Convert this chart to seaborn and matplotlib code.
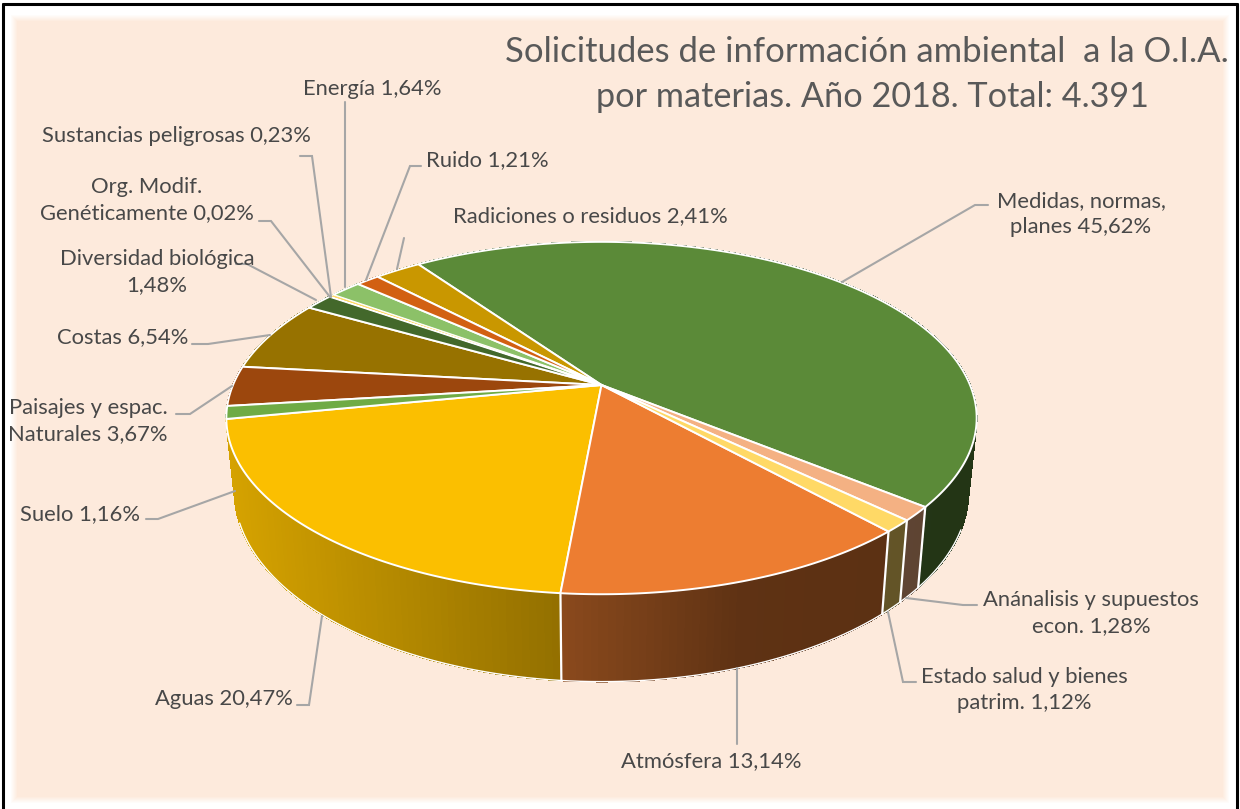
import numpy as np
import matplotlib
matplotlib.use("Agg")
import matplotlib.pyplot as plt
import seaborn as sns

categories = ["Medidas, normas,\nplanes", "Anánalisis y supuestos\necon.", "Estado salud y bienes\npatrim.",
              "Atmósfera", "Aguas", "Suelo", "Paisajes y espac.\nNaturales", "Costas",
              "Diversidad biológica\n", "Org. Modif.\nGenéticamente", "Sustancias peligrosas",
              "Energía", "Ruido", "Radiciones o residuos"]
percent = [45.62, 1.28, 1.12, 13.14, 20.47, 1.16, 3.67, 6.54, 1.48, 0.02, 0.23, 1.64, 1.21, 2.41]
top_colors = ["#5B8A38", "#F4B183", "#FFD966", "#ED7D31", "#FBBF00", "#6FAB45", "#9C470D", "#977200",
              "#43682B", "#FFFFFF", "#FFD966", "#8CC168", "#D26012", "#C99700"]

# where the labels go: x, y, horizontal alignment
label_pos = [(1081, 214, "center"), (1091, 613, "center"), (1024, 690, "center"), (711, 761, "center"),
             (224, 699, "center"), (80, 514, "center"), (168, 421, "right"), (123, 337, "center"),
             (157, 272, "center"), (147, 200, "center"), (176, 136, "center"), (372, 89, "center"),
             (487, 160, "center"), (590, 216, "center")]
leaders = [[(988, 205), (975, 205), (842, 282)],
           [(977, 605), (963, 605), (906, 598)],
           [(916, 682), (903, 682), (888, 612)],
           [(737, 668), (737, 744)],
           [(297, 705), (309, 705), (322, 616)],
           [(146, 519), (158, 519), (235, 491)],
           [(176, 414), (190, 414), (232, 386)],
           [(192, 344), (208, 344), (270, 335)],
           [(236, 264), (247, 264), (316, 300)],
           [(259, 221), (271, 221), (330, 297)],
           [(300, 156), (312, 156), (331, 297)],
           [(345, 102), (345, 287)],
           [(421, 166), (410, 166), (366, 280)],
           [(404, 238), (397, 269)]]

bg = "#FDEADC"
text_col = "#484848"
line_col = "#A6A6A6"

sns.set_theme(style="white")
plt.rcParams["font.family"] = ["Lato", "DejaVu Sans"]
palette = sns.color_palette(top_colors)

fig = plt.figure(figsize=(12.4, 8.09), dpi=100, facecolor="white")
ax = fig.add_axes([0, 0, 1, 1])
ax.set_xlim(0, 1240)
ax.set_ylim(809, 0)
ax.axis("off")

# soft edged panel
yy, xx = np.mgrid[0:809, 0:1240]
edge = np.minimum.reduce([xx - 10, 1229 - xx, yy - 14, 803 - yy])
panel = np.zeros((809, 1240, 4))
panel[..., :3] = matplotlib.colors.to_rgb(bg)
panel[..., 3] = np.clip(edge / 7, 0, 1)
ax.imshow(panel, extent=(0, 1240, 809, 0), aspect="auto", zorder=0)
ax.plot([3, 3], [809, 4], color="black", lw=2.2, zorder=1)
ax.plot([3, 1237], [4, 4], color="black", lw=2.2, zorder=1)
ax.plot([1237, 1237], [4, 809], color="black", lw=2.2, zorder=1)

# perspective disc
cx, cy = 601.5, 385
rx, ry, persp = 368.5, 170, 0.1875
depth, shrink = 71, 0.978
start = -35.0


def project(deg, lower=False):
    t = np.radians(deg)
    w = 1 + persp * np.cos(t)
    x = rx * np.sin(t) / w
    y = -ry * np.cos(t) / w
    if lower:
        return cx + shrink * x, cy + y + depth / w
    return cx + x, cy + y


def wall_shade(x):
    return np.interp(x, [228, 555, 740, 980], [0.85, 0.59, 0.40, 0.38])


edges = start + np.cumsum([0] + percent) * 3.6 * 100 / sum(percent)

# side wall, far strips first
strips = []
for i, col in enumerate(palette):
    n = max(2, int(np.ceil(edges[i + 1] - edges[i])) + 1)
    a = np.linspace(edges[i], edges[i + 1], n)
    for a0, a1 in zip(a[:-1], a[1:]):
        strips.append((np.cos(np.radians((a0 + a1) / 2)), a0, a1, col))
strips.sort(key=lambda s: -s[0])
for _, a0, a1, col in strips:
    x0, y0 = project(a0)
    x1, y1 = project(a1)
    x2, y2 = project(a1, True)
    x3, y3 = project(a0, True)
    shaded = np.array(col) * wall_shade((x0 + x1) / 2)
    ax.fill([x0, x1, x2, x3], [y0, y1, y2, y3], color=shaded, lw=0.6, antialiased=False, zorder=2)

# white lines on the wall
for e in edges:
    if np.cos(np.radians(e)) < -0.3:
        x0, y0 = project(e)
        x1, y1 = project(e, True)
        ax.plot([x0, x1], [y0, y1], color="white", lw=1.6, zorder=3)
arc = np.linspace(112, 250, 200)
bx, by = project(arc, True)
ax.plot(bx, by, color="white", lw=1.0, zorder=3)

# top of the pie, the thinnest wedges last so their colour stays visible
order = sorted(range(len(percent)), key=lambda i: -percent[i])
for i in order:
    a = np.linspace(edges[i], edges[i + 1], max(3, int(edges[i + 1] - edges[i]) * 2))
    x, y = project(a)
    width = 0.6 if percent[i] < 0.5 else 1.4
    ax.fill(np.r_[cx, x], np.r_[cy, y], facecolor=palette[i], edgecolor="white", lw=width,
            joinstyle="round", zorder=4)

for pts in leaders:
    ax.plot(*zip(*pts), color=line_col, lw=1.5, zorder=5, solid_joinstyle="miter")

for name, p, (x, y, ha) in zip(categories, percent, label_pos):
    value = f"{p:.2f}".replace(".", ",") + "%"
    sep = "" if name.endswith("\n") else " "
    ax.text(x, y, name + sep + value, ha=ha, va="center", ma=ha, fontsize=15.8, color=text_col,
            linespacing=1.42, zorder=6)

ax.text(867, 52, "Solicitudes de información ambiental  a la O.I.A.", ha="center", va="center",
        fontsize=24.9, color="#595959", zorder=6)
ax.text(872, 97, "por materias. Año 2018. Total: 4.391", ha="center", va="center",
        fontsize=24.7, color="#595959", zorder=6)

fig.savefig("out.png", dpi=100, facecolor="white")
